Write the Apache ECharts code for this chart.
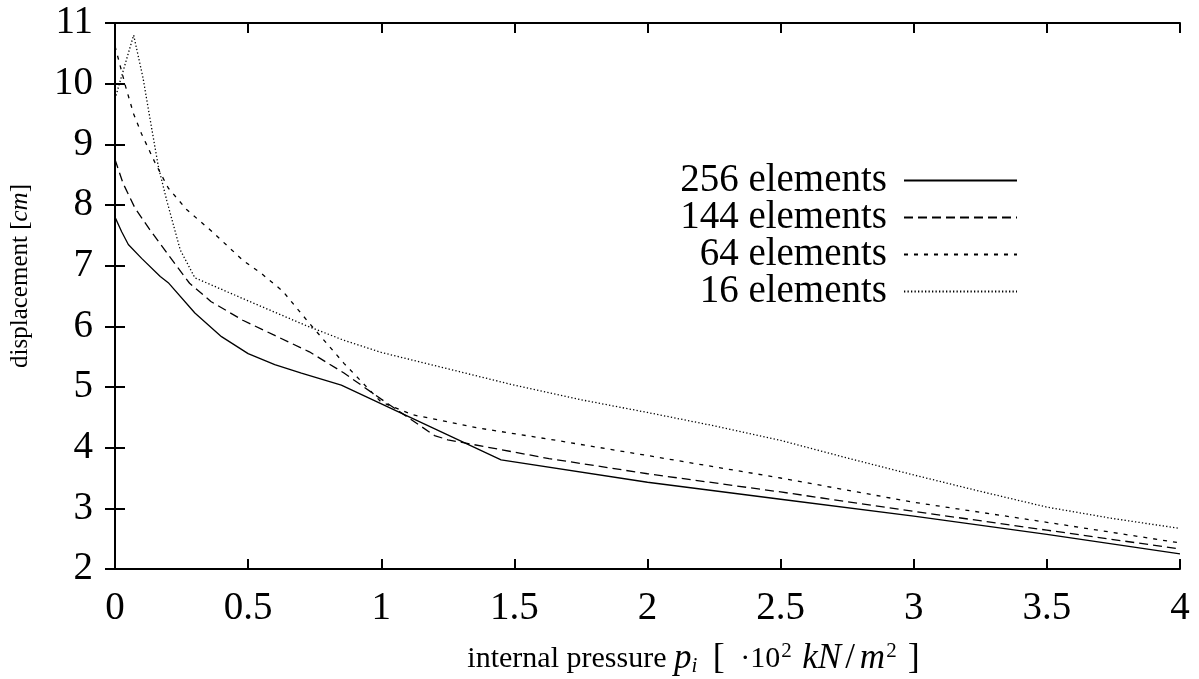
<!DOCTYPE html>
<html>
<head>
<meta charset="utf-8">
<script src="https://cdn.jsdelivr.net/npm/echarts@6/dist/echarts.min.js"></script>
<style>
html,body{margin:0;padding:0;background:#fff;}
#chart{width:1199px;height:679px;}
</style>
</head>
<body>
<div id="chart"></div>
<script>
// ---- data ----
const seriesNames = ['256 elements', '144 elements', '64 elements', '16 elements'];

const x256 = [0, 0.025, 0.05, 0.1, 0.17, 0.2, 0.3, 0.4, 0.5, 0.6, 0.7, 0.85, 1.45, 2, 2.5, 3, 3.5, 4];
const y256 = [7.8, 7.56, 7.35, 7.12, 6.82, 6.72, 6.22, 5.83, 5.55, 5.37, 5.23, 5.03, 3.80, 3.43, 3.15, 2.87, 2.57, 2.25];

const x144 = [0, 0.03, 0.075, 0.13, 0.2, 0.28, 0.36, 0.48, 0.6, 0.73, 0.86, 1, 1.1, 1.2, 1.25, 1.63, 2, 2.5, 3, 3.5, 4];
const y144 = [8.75, 8.36, 7.95, 7.6, 7.18, 6.71, 6.41, 6.1, 5.85, 5.58, 5.23, 4.8, 4.5, 4.2, 4.13, 3.82, 3.57, 3.27, 2.95, 2.64, 2.33];

const x64 = [0, 0.04, 0.07, 0.1, 0.15, 0.2, 0.27, 0.36, 0.48, 0.55, 0.63, 0.73, 0.86, 1, 1.12, 1.37, 1.63, 2, 2.5, 3, 3.5, 4];
const y64 = [10.62, 9.95, 9.5, 9.17, 8.7, 8.28, 7.92, 7.58, 7.09, 6.87, 6.58, 6.05, 5.39, 4.75, 4.54, 4.32, 4.14, 3.87, 3.5, 3.1, 2.77, 2.43];

const x16 = [0, 0.07, 0.105, 0.13, 0.163, 0.194, 0.245, 0.3, 0.5, 0.73, 0.86, 1, 1.25, 1.5, 1.75, 2, 2.25, 2.5, 2.75, 3, 3.25, 3.5, 3.75, 4];
const y16 = [9.75, 10.8, 10.1, 9.46, 8.63, 8.08, 7.26, 6.8, 6.42, 5.99, 5.77, 5.57, 5.3, 5.03, 4.79, 4.58, 4.36, 4.12, 3.83, 3.55, 3.28, 3.02, 2.83, 2.67];

const xTitle = 'internal pressure {it|p}{sub|i} {br|[} ·10{sup|2} {it|kN}{sl|/}{it|m}{sup|2}{br|]}';
const yTitle = 'displacement [{it|cm}]';

// ---- chart ----
const FONT = '"Liberation Serif", "DejaVu Serif", serif';
const pairs = (xs, ys) => xs.map((x, i) => [x, ys[i]]);
const dashes = ['solid', [9, 5], [4, 6], [1.3, 2.2]];
const allData = [pairs(x256, y256), pairs(x144, y144), pairs(x64, y64), pairs(x16, y16)];

const chart = echarts.init(document.getElementById('chart'), null, {renderer: 'canvas'});

const axisLine = {show: true, lineStyle: {color: '#000', width: 2}};
const axisTick = {show: true, inside: true, length: 10, lineStyle: {color: '#000', width: 2}};

chart.setOption({
  animation: false,
  backgroundColor: '#fff',
  grid: {left: 115, right: 19, top: 23, bottom: 110, containLabel: false, outerBoundsMode: 'none'},
  legend: {
    orient: 'vertical',
    right: 176,
    top: 156,
    align: 'right',
    itemWidth: 113,
    itemHeight: 14,
    itemGap: -2,
    padding: 5,
    data: seriesNames,
    itemStyle: {opacity: 0},
    textStyle: {fontFamily: FONT, fontSize: 39, color: '#000', lineHeight: 37, padding: [0, 12, 0, 0]}
  },
  xAxis: [{
    type: 'value', position: 'bottom', min: 0, max: 4, interval: 0.5,
    axisLine, axisTick, splitLine: {show: false},
    axisLabel: {fontFamily: FONT, fontSize: 39, color: '#000', margin: 20},
    name: xTitle, nameLocation: 'middle', nameGap: 72,
    nameTextStyle: {
      fontFamily: FONT, fontSize: 30, color: '#000', padding: [0, 0, 0, 100], lineHeight: 36,
      rich: {
        it: {fontFamily: FONT, fontSize: 35, fontStyle: 'italic', color: '#000'},
        sl: {fontFamily: FONT, fontSize: 35, color: '#000', padding: [0, 5, 0, 4]},
        br: {fontFamily: FONT, fontSize: 36, color: '#000', padding: [0, 8, 0, 8]},
        sub: {fontFamily: FONT, fontSize: 21, fontStyle: 'italic', color: '#000', verticalAlign: 'bottom'},
        sup: {fontFamily: FONT, fontSize: 21, color: '#000', verticalAlign: 'top', padding: [0, 3, 0, 1]}
      }
    }
  }, {
    type: 'value', position: 'top', min: 0, max: 4, interval: 0.5,
    axisLine, axisTick, axisLabel: {show: false}, splitLine: {show: false}
  }],
  yAxis: [{
    type: 'value', position: 'left', min: 2, max: 11, interval: 1,
    axisLine, axisTick, splitLine: {show: false},
    axisLabel: {fontFamily: FONT, fontSize: 39, color: '#000', margin: 22},
    name: yTitle, nameLocation: 'middle', nameRotate: 90, nameGap: 82,
    nameTextStyle: {
      fontFamily: FONT, fontSize: 25, color: '#000', padding: [0, 0, 0, 40],
      rich: {it: {fontFamily: FONT, fontSize: 25, fontStyle: 'italic', color: '#000'}}
    }
  }, {
    type: 'value', position: 'right', min: 2, max: 11, interval: 1,
    axisLine, axisTick, axisLabel: {show: false}, splitLine: {show: false}
  }],
  series: seriesNames.map((name, i) => ({
    name, type: 'line', data: allData[i], xAxisIndex: 0, yAxisIndex: 0,
    symbol: 'none', showSymbol: false, smooth: false,
    lineStyle: {color: '#000', width: 1.3, type: dashes[i]},
    itemStyle: {color: '#000'}
  }))
});
</script>
</body>
</html>
